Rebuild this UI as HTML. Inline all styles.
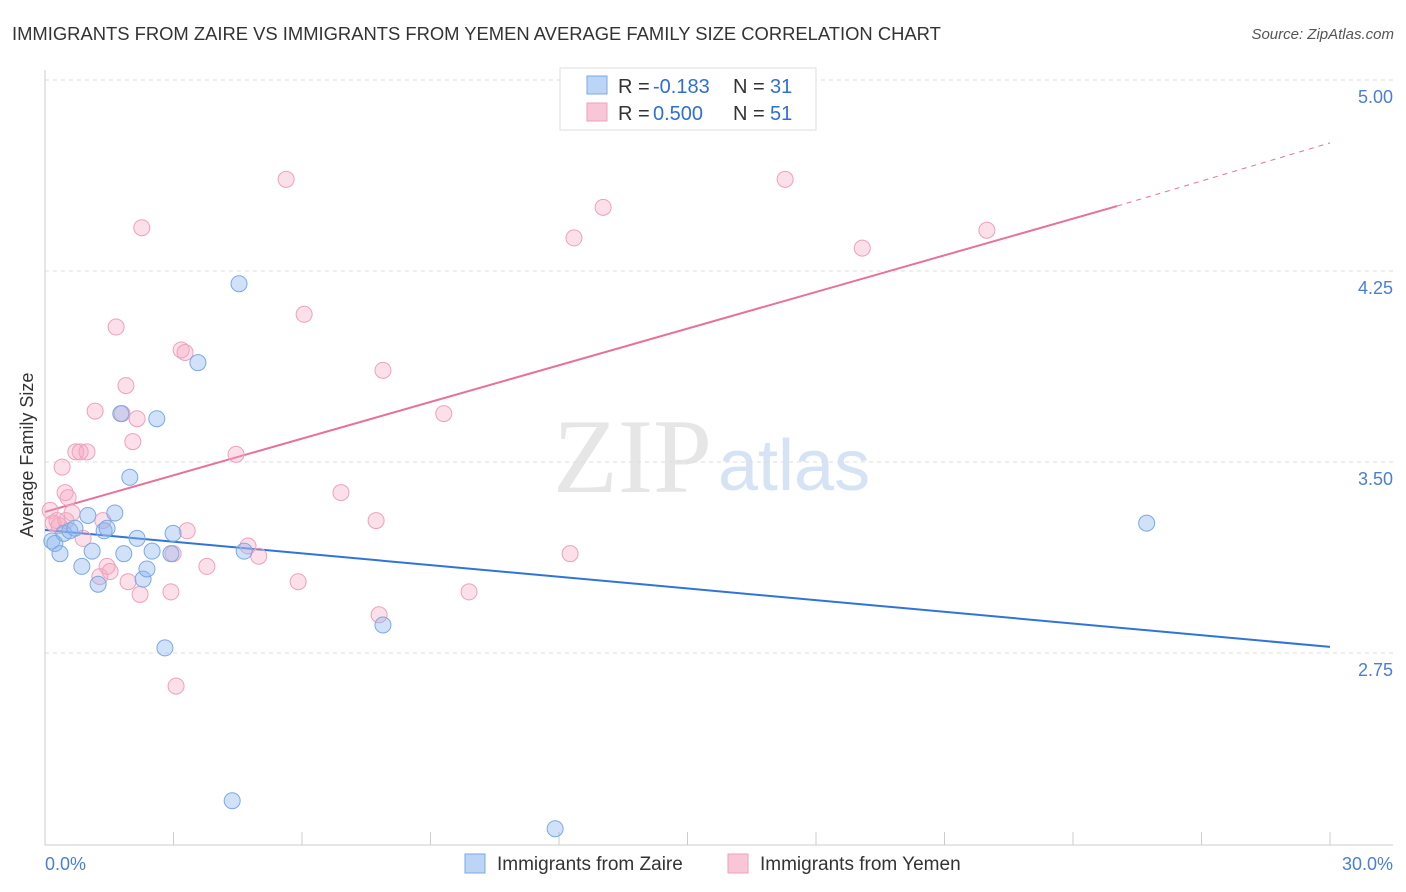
<!DOCTYPE html>
<html><head><meta charset="utf-8"><style>
body{margin:0;background:#fff;font-family:"Liberation Sans",sans-serif;}
svg{display:block}
</style></head><body>
<svg width="1406" height="892">
<text x="12" y="40" font-size="18.4" fill="#333">IMMIGRANTS FROM ZAIRE VS IMMIGRANTS FROM YEMEN AVERAGE FAMILY SIZE CORRELATION CHART</text>
<text x="1394" y="39" font-size="15" fill="#555" font-style="italic" text-anchor="end">Source: ZipAtlas.com</text>
<text x="553" y="492" font-size="106" fill="#e6e6e6" font-family="Liberation Serif,serif">ZIP</text>
<text x="718" y="490" font-size="72" fill="#d6e3f5">atlas</text>
<g id="grid"></g>
<line x1="45" y1="70" x2="45" y2="845" stroke="#ccc"/>
<line x1="45" y1="845" x2="1393" y2="845" stroke="#ccc"/>
<text x="33" y="455" font-size="18" fill="#333" text-anchor="middle" transform="rotate(-90 33 455)">Average Family Size</text>
<text x="45" y="870" font-size="18" fill="#4a7fd4">0.0%</text>
<text x="1393" y="870" font-size="18" fill="#4a7fd4" text-anchor="end">30.0%</text>
<g id="lines"></g>
<g id="points"></g>
<g>
<rect x="560" y="68" width="256" height="62" fill="#fff" stroke="#ddd"/>
<rect x="587" y="76" width="20" height="18" fill="#bcd4f5" stroke="#7aa9e6"/>
<text x="618" y="93" font-size="20" fill="#333">R =</text>
<text x="653" y="93" font-size="20" fill="#2f6fd6">-0.183</text>
<text x="733" y="93" font-size="20" fill="#333">N =</text>
<text x="770" y="93" font-size="20" fill="#2f6fd6">31</text>
<rect x="587" y="103" width="20" height="18" fill="#f8c6d6" stroke="#f0a0bb"/>
<text x="618" y="120" font-size="20" fill="#333">R =</text>
<text x="653" y="120" font-size="20" fill="#2f6fd6">0.500</text>
<text x="733" y="120" font-size="20" fill="#333">N =</text>
<text x="770" y="120" font-size="20" fill="#2f6fd6">51</text>
</g>
<g>
<rect x="465" y="854" width="20" height="19" fill="#bcd4f5" stroke="#7aa9e6"/>
<text x="497" y="870" font-size="19" fill="#333">Immigrants from Zaire</text>
<rect x="728" y="854" width="20" height="19" fill="#f8c6d6" stroke="#f0a0bb"/>
<text x="760" y="870" font-size="19" fill="#333">Immigrants from Yemen</text>
</g>
</svg>
<script>
const yTicks=[5.00,4.25,3.50,2.75];
const zaireX=[0.16,0.23,0.35,0.44,0.58,0.70,0.86,1.00,1.10,1.24,1.38,1.45,1.63,1.77,1.84,1.98,2.15,2.29,2.38,2.50,2.61,2.80,2.94,2.99,3.57,4.37,4.53,4.65,7.89,11.91,25.72];
const zaireY=[3.19,3.18,3.14,3.22,3.23,3.24,3.09,3.29,3.15,3.02,3.23,3.24,3.30,3.69,3.14,3.44,3.20,3.04,3.08,3.15,3.67,2.77,3.14,3.22,3.89,2.17,4.20,3.15,2.86,2.06,3.26];
const yemenX=[0.12,0.19,0.28,0.40,0.47,0.54,0.63,0.72,0.82,0.89,0.98,1.17,1.28,1.35,1.45,1.52,1.66,1.80,1.89,1.94,2.05,2.15,2.22,2.26,2.94,2.99,3.06,3.18,3.27,3.32,3.78,4.46,4.74,4.99,5.63,5.91,6.05,6.91,7.73,7.80,7.89,9.31,9.90,12.26,12.35,13.03,17.28,19.08,21.99,0.33,0.49];
const yemenY=[3.31,3.26,3.27,3.48,3.38,3.36,3.30,3.54,3.54,3.20,3.54,3.70,3.05,3.27,3.09,3.07,4.03,3.69,3.80,3.03,3.58,3.67,2.98,4.42,2.99,3.14,2.62,3.94,3.93,3.23,3.09,3.53,3.17,3.13,4.61,3.03,4.08,3.38,3.27,2.90,3.86,3.69,2.99,3.14,4.38,4.50,4.61,4.34,4.41,3.25,3.27];
const blueLine=[[0,3.233],[30,2.774]];
const pinkLine=[[0,3.304],[25.03,4.505],[30,4.753]];
const NS="http://www.w3.org/2000/svg";
const sx=v=>45+v*42.833, sy=v=>80+(5-v)*254.67;
function mk(t,a,p){const e=document.createElementNS(NS,t);for(const k in a)e.setAttribute(k,a[k]);p.appendChild(e);return e;}
const grid=document.getElementById('grid');
yTicks.forEach(v=>{
 const l=mk('line',{x1:45,x2:1393,y1:sy(v),y2:sy(v),stroke:'#ddd','stroke-dasharray':'4 4'},grid);
 
 
 const t=mk('text',{x:1393,y:sy(v)+23,'font-size':18,fill:'#4a7fd4','text-anchor':'end'},grid);
 t.textContent=v.toFixed(2);
 
 
});
for(let i=1;i<=10;i++){
 const l=mk('line',{x1:sx(i*3),x2:sx(i*3),y1:832,y2:845,stroke:'#ccc'},grid);
 
 
}
const lines=document.getElementById('lines');
const bl=mk('line',{x1:sx(blueLine[0][0]),y1:sy(blueLine[0][1]),x2:sx(blueLine[1][0]),y2:sy(blueLine[1][1]),stroke:'#2f74d9','stroke-width':2},lines);


const pl=mk('line',{x1:sx(pinkLine[0][0]),y1:sy(pinkLine[0][1]),x2:sx(pinkLine[1][0]),y2:sy(pinkLine[1][1]),stroke:'#e8709a','stroke-width':2},lines);


const pd=mk('line',{x1:sx(pinkLine[1][0]),y1:sy(pinkLine[1][1]),x2:sx(pinkLine[2][0]),y2:sy(pinkLine[2][1]),stroke:'#e8709a','stroke-width':1,'stroke-dasharray':'5 5'},lines);


const pts=document.getElementById('points');
yemenX.forEach((x,i)=>{
 const c=mk('circle',{cx:sx(x),cy:sy(yemenY[i]),r:8,fill:'rgba(245,165,192,0.35)',stroke:'#f0a0bb','stroke-width':1},pts);
 
 
});
zaireX.forEach((x,i)=>{
 const c=mk('circle',{cx:sx(x),cy:sy(zaireY[i]),r:8,fill:'rgba(140,182,238,0.4)',stroke:'#7aa9e6','stroke-width':1},pts);
 
 
});
</script>
</body></html>
